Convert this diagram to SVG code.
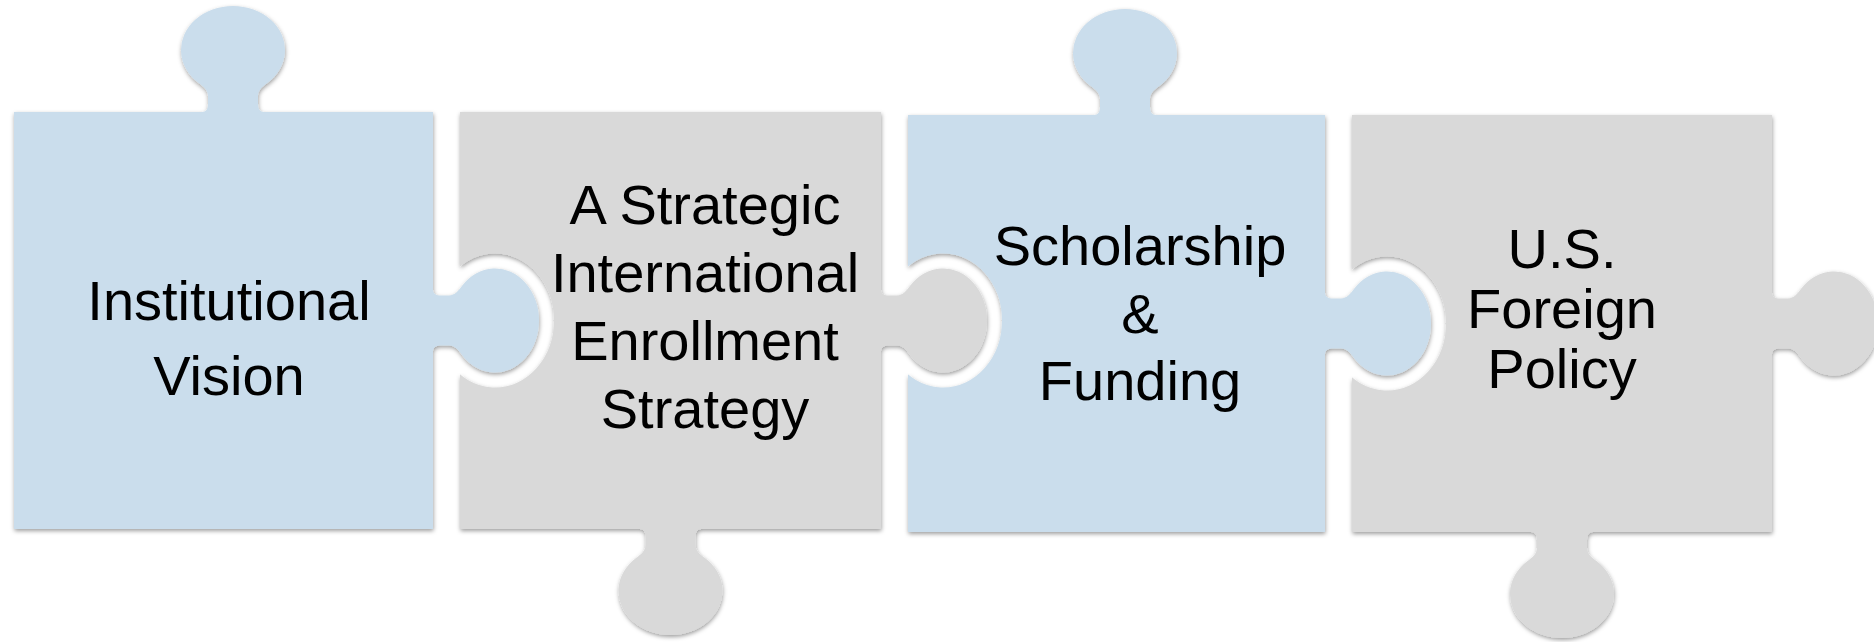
<svg xmlns="http://www.w3.org/2000/svg" width="1874" height="642" viewBox="0 0 1874 642">
<style>
.blue{fill:#CADDEC}
.gray{fill:#D9D9D9}
.lbl{font-family:"Liberation Sans",Arial,sans-serif;font-size:56px;fill:#000;text-anchor:middle}
.cut{fill:#000;stroke:#000;stroke-width:30;stroke-linejoin:round}
</style>
<defs>
<filter id="ds" x="-10%" y="-10%" width="120%" height="130%">
<feDropShadow dx="0.5" dy="2" stdDeviation="2.2" flood-color="#000" flood-opacity="0.38"/>
</filter>
<mask id="m2" maskUnits="userSpaceOnUse" x="0" y="0" width="1874" height="642">
<rect x="0" y="0" width="1874" height="642" fill="#fff"/>
<path class="cut" d="M400,289.5 L433,289.5 C433,293.5 436,295.5 441,295.5 L449,295.5 C455,295.5 458.4,290.9 462,286.1 A44,52 0 1 1 462,354.9 C458.4,350.1 455,345.5 449,345.5 L441,345.5 C436,345.5 433,347.5 433,351.5 L400,351.5 Z"/>
</mask>
<mask id="m3" maskUnits="userSpaceOnUse" x="0" y="0" width="1874" height="642">
<rect x="0" y="0" width="1874" height="642" fill="#fff"/>
<path class="cut" d="M850,289.5 L881,289.5 C881,293.5 884,295.5 889,295.5 L897,295.5 C903,295.5 906.4,290.9 910,286.1 A44,52 0 1 1 910,354.9 C906.4,350.1 903,345.5 897,345.5 L889,345.5 C884,345.5 881,347.5 881,351.5 L850,351.5 Z"/>
</mask>
<mask id="m4" maskUnits="userSpaceOnUse" x="0" y="0" width="1874" height="642">
<rect x="0" y="0" width="1874" height="642" fill="#fff"/>
<path class="cut" d="M1295,292.5 L1325,292.5 C1325,296.5 1328,298.5 1333,298.5 L1341,298.5 C1347,298.5 1350.4,293.9 1354,289.1 A44,52 0 1 1 1354,357.9 C1350.4,353.1 1347,348.5 1341,348.5 L1333,348.5 C1328,348.5 1325,350.5 1325,354.5 L1295,354.5 Z"/>
</mask>
</defs>
<rect width="1874" height="642" fill="#fff"/>

<g id="piece1">
<g filter="url(#ds)">
<path class="blue" d="M14,112 L202,112 C206,112 208,109 208,104 L208,96 C208,90 203.4,86.6 198.6,83 A52,44 0 1 1 267.4,83 C262.6,86.6 258,90 258,96 L258,104 C258,109 260,112 264,112 L433,112 L433,289.5 C433,293.5 436,295.5 441,295.5 L449,295.5 C455,295.5 458.4,290.9 462,286.1 A44,52 0 1 1 462,354.9 C458.4,350.1 455,345.5 449,345.5 L441,345.5 C436,345.5 433,347.5 433,351.5 L433,529 L14,529 Z"/>
</g>
<text class="lbl" x="229" y="320">Institutional</text>
<text class="lbl" x="229" y="395">Vision</text>
</g>

<g id="piece2">
<g filter="url(#ds)">
<path class="gray" mask="url(#m2)" d="M460,112 L881,112 L881,289.5 C881,293.5 884,295.5 889,295.5 L897,295.5 C903,295.5 906.4,290.9 910,286.1 A44,52 0 1 1 910,354.9 C906.4,350.1 903,345.5 897,345.5 L889,345.5 C884,345.5 881,347.5 881,351.5 L881,529 L701.5,529 C697.5,529 695.5,532 695.5,537 L695.5,545 C695.5,551 700.1,554.4 704.9,558 A52,44 0 1 1 636.1,558 C640.9,554.4 645.5,551 645.5,545 L645.5,537 C645.5,532 643.5,529 639.5,529 L460,529 Z"/>
</g>
<text class="lbl" x="705" y="224">A Strategic</text>
<text class="lbl" x="705" y="292">International</text>
<text class="lbl" x="705" y="360">Enrollment</text>
<text class="lbl" x="705" y="428">Strategy</text>
</g>

<g id="piece3">
<g filter="url(#ds)">
<path class="blue" mask="url(#m3)" d="M908,115 L1094,115 C1098,115 1100,112 1100,107 L1100,99 C1100,93 1095.4,89.6 1090.6,86 A52,44 0 1 1 1159.4,86 C1154.6,89.6 1150,93 1150,99 L1150,107 C1150,112 1152,115 1156,115 L1325,115 L1325,292.5 C1325,296.5 1328,298.5 1333,298.5 L1341,298.5 C1347,298.5 1350.4,293.9 1354,289.1 A44,52 0 1 1 1354,357.9 C1350.4,353.1 1347,348.5 1341,348.5 L1333,348.5 C1328,348.5 1325,350.5 1325,354.5 L1325,532 L908,532 Z"/>
</g>
<text class="lbl" x="1140" y="265">Scholarship</text>
<text class="lbl" x="1140" y="333">&amp;</text>
<text class="lbl" x="1140" y="400">Funding</text>
</g>

<g id="piece4">
<g filter="url(#ds)">
<path class="gray" mask="url(#m4)" d="M1352,115 L1772,115 L1772,292.5 C1772,296.5 1775,298.5 1780,298.5 L1788,298.5 C1794,298.5 1797.4,293.9 1801,289.1 A44,52 0 1 1 1801,357.9 C1797.4,353.1 1794,348.5 1788,348.5 L1780,348.5 C1775,348.5 1772,350.5 1772,354.5 L1772,532 L1593,532 C1589,532 1587,535 1587,540 L1587,548 C1587,554 1591.6,557.4 1596.4,561 A52,44 0 1 1 1527.6,561 C1532.4,557.4 1537,554 1537,548 L1537,540 C1537,535 1535,532 1531,532 L1352,532 Z"/>
</g>
<text class="lbl" x="1562" y="268">U.S.</text>
<text class="lbl" x="1562" y="328">Foreign</text>
<text class="lbl" x="1562" y="388">Policy</text>
</g>

<g id="connectors"></g>
</svg>
